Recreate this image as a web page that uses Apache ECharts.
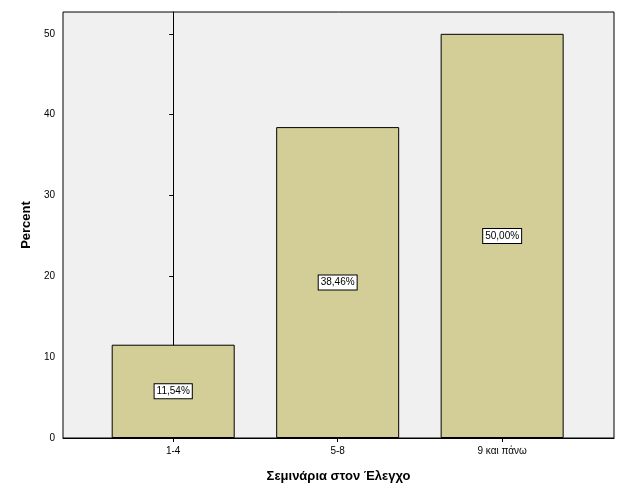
<!DOCTYPE html>
<html><head><meta charset="utf-8">
<script src="https://cdn.jsdelivr.net/npm/echarts@6/dist/echarts.min.js"></script>
<style>html,body{margin:0;padding:0;background:#fff}#c{width:629px;height:504px}</style>
</head><body><div id="c"></div>
<script>
const categories = ['1-4', '5-8', '9 και πάνω'];
const values = [11.54, 38.46, 50.00];
const labels = ['11,54%', '38,46%', '50,00%'];
const chart = echarts.init(document.getElementById('c'));
chart.setOption({
  animation: false,
  grid: {left: 63, right: 15, top: 12, bottom: 66, show: true, backgroundColor: '#f0f0f0', borderColor: '#000', borderWidth: 1},
  xAxis: {type: 'value', min: -0.67, max: 2.68, name: 'Σεμινάρια στον Έλεγχο', nameLocation: 'middle', nameGap: 32,
    nameTextStyle: {fontFamily: 'Arial, Liberation Sans', fontSize: 13, fontWeight: 'bold', color: '#000'},
    splitLine: {show: false},
    axisLine: {lineStyle: {color: '#000'}}, axisTick: {show: true, customValues: [0, 1, 2], length: 4, lineStyle: {color: '#000'}},
    axisLabel: {customValues: [0, 1, 2], formatter: v => categories[Math.round(v)], fontFamily: 'Arial, Liberation Sans', fontSize: 10, color: '#000'}},
  yAxis: {type: 'value', min: 0, max: 52.7, interval: 10, name: 'Percent', nameLocation: 'middle', nameGap: 24,
    nameTextStyle: {fontFamily: 'Arial, Liberation Sans', fontSize: 13, fontWeight: 'bold', color: '#000'},
    axisLine: {show: true, lineStyle: {color: '#000'}}, axisTick: {show: true, length: 4, lineStyle: {color: '#000'}},
    splitLine: {show: false},
    axisLabel: {fontFamily: 'Arial, Liberation Sans', fontSize: 10, color: '#000', showMaxLabel: false,
      formatter: v => (v % 10 === 0 ? v : '')}},
  series: [{type: 'bar', data: values.map((v, i) => [i, v]), barWidth: 123,
    itemStyle: {color: '#d3ce97', borderColor: '#000', borderWidth: 1},
    label: {show: true, position: 'inside', formatter: p => labels[p.dataIndex],
      fontFamily: 'Arial, Liberation Sans', fontSize: 10, color: '#000', backgroundColor: '#fff',
      borderColor: '#000', borderWidth: 1, padding: [2, 2]}}]
});
</script></body></html>
